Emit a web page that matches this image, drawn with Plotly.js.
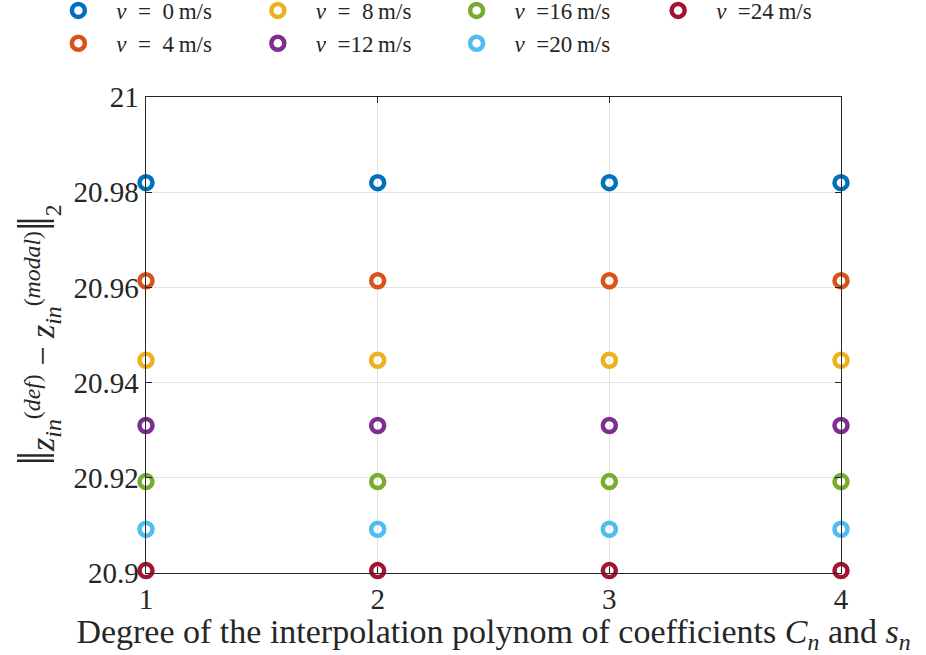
<!DOCTYPE html>
<html>
<head>
<meta charset="utf-8">
<script src="https://cdn.plot.ly/plotly-3.0.1.min.js"></script>
<style>
  html, body { margin: 0; padding: 0; background: #fff; }
  #chart { width: 926px; height: 655px; }
</style>
</head>
<body>
<div id="chart"></div>
<script>
// Degree of the interpolation polynom (x axis)
const degrees = [1, 2, 3, 4];

// Norm values per speed (same at every degree)
const speeds = [0, 4, 8, 12, 16, 20, 24];
const normV0 = [20.9820, 20.9820, 20.9820, 20.9820];
const normV4 = [20.9614, 20.9614, 20.9614, 20.9614];
const normV8 = [20.9447, 20.9447, 20.9447, 20.9447];
const normV12 = [20.9310, 20.9310, 20.9310, 20.9310];
const normV16 = [20.9192, 20.9192, 20.9192, 20.9192];
const normV20 = [20.9092, 20.9092, 20.9092, 20.9092];
const normV24 = [20.9005, 20.9005, 20.9005, 20.9005];
const seriesValues = [normV0, normV4, normV8, normV12, normV16, normV20, normV24];

const yTickVals = [20.9, 20.92, 20.94, 20.96, 20.98, 21];
const yTickText = ['20.9', '20.92', '20.94', '20.96', '20.98', '21'];

// MATLAB default colour order
const colors = ['#0072BD', '#D95319', '#EDB120', '#7E2F8E', '#77AC30', '#4DBEEE', '#A2142F'];

// legend columns: two entries per column, column-major like the original
const legendIds = ['legend', 'legend', 'legend2', 'legend2', 'legend3', 'legend3', 'legend4'];

const FONT = '"Liberation Serif", "DejaVu Serif", serif';
const INK = '#262626';

function speedLabel(v) {
    // en spaces mimic the LaTeX math spacing round "="
    const gap = v < 10 ? '\u2002=\u2002' : '\u2002=';
    return `<i>v</i>${gap}${v}\u2009m/s`;
}

const traces = speeds.map((v, i) => ({
    x: degrees,
    y: seriesValues[i],
    type: 'scatter',
    mode: 'markers',
    name: speedLabel(v),
    legend: legendIds[i],
    cliponaxis: false,
    hoverinfo: 'skip',
    marker: {
        symbol: 'circle-open',
        size: 13,
        color: colors[i],
        line: { color: colors[i], width: 4.5 },
    },
}));

const legendBase = {
    orientation: 'v',
    xanchor: 'left',
    yanchor: 'top',
    y: 1.227,
    bgcolor: 'rgba(0,0,0,0)',
    font: { family: FONT, size: 23, color: INK },
    itemwidth: 66,
    tracegroupgap: 0,
};

const yTitle = '<span style="font-size:52px">‖</span><i>z</i><sub><i>in</i></sub><sup>(<i>def</i>)</sup>' +
    ' − <i>z</i><sub><i>in</i></sub><sup>(<i>modal</i>)</sup><span style="font-size:52px">‖</span><sub>2</sub>';

const layout = {
    width: 926,
    height: 655,
    margin: { l: 146, r: 85, t: 97, b: 82, autoexpand: false },
    paper_bgcolor: '#ffffff',
    plot_bgcolor: '#ffffff',
    font: { family: FONT, size: 28, color: INK },
    showlegend: true,
    legend: { ...legendBase, x: -0.152 },
    legend2: { ...legendBase, x: 0.135 },
    legend3: { ...legendBase, x: 0.421 },
    legend4: { ...legendBase, x: 0.711 },
    xaxis: {
        range: [1, 4],
        tickvals: degrees,
        ticks: 'inside',
        ticklen: 6,
        tickcolor: INK,
        showline: true,
        linecolor: INK,
        linewidth: 1.4,
        mirror: 'ticks',
        showgrid: true,
        gridcolor: '#e3e3e3',
        zeroline: false,
        tickfont: { family: FONT, size: 29, color: INK },
        title: {
            text: 'Degree of the interpolation polynom of coefficients <i>C</i><sub><i>n</i></sub> and <i>s</i><sub><i>n</i></sub>',
            font: { family: FONT, size: 34, color: INK },
            standoff: 10,
        },
        automargin: false,
    },
    yaxis: {
        range: [20.9, 21],
        tickvals: yTickVals,
        ticktext: yTickText,
        ticks: 'inside',
        ticklen: 6,
        tickcolor: INK,
        showline: true,
        linecolor: INK,
        linewidth: 1.4,
        mirror: 'ticks',
        showgrid: true,
        gridcolor: '#e3e3e3',
        zeroline: false,
        tickfont: { family: FONT, size: 29, color: INK },
        title: {
            text: yTitle,
            font: { family: FONT, size: 34, color: INK },
            standoff: 8,
        },
        automargin: false,
    },
};

Plotly.newPlot('chart', traces, layout, { displayModeBar: false, staticPlot: true });
</script>
</body>
</html>
